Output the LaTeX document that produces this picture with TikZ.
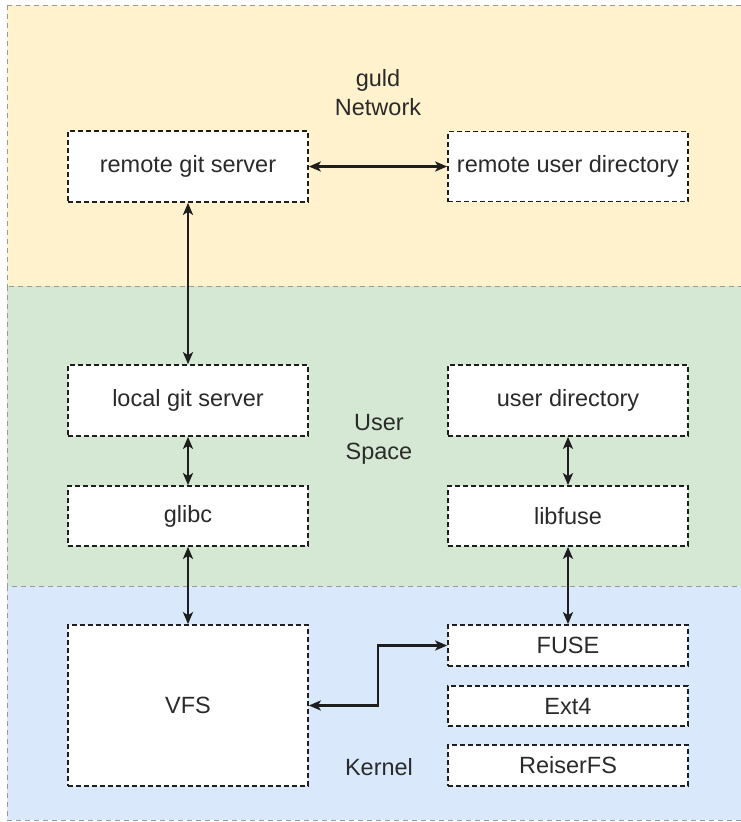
\documentclass[tikz,border=0pt]{standalone}
\usepackage{fontspec}
\setmainfont{Liberation Sans}
\usetikzlibrary{arrows.meta}
\definecolor{netfill}{HTML}{FFF2CC}
\definecolor{userfill}{HTML}{D5E8D4}
\definecolor{kernfill}{HTML}{DAE8FC}
\definecolor{regionline}{HTML}{9A9A9A}
\definecolor{inkc}{HTML}{1E1E1E}
\definecolor{textc}{HTML}{2A2A2A}
\tikzset{
  region/.style={fill=#1, draw=regionline, line width=1pt, dash pattern=on 5pt off 4pt},
  blockbox/.style={draw=inkc, fill=white, line width=1.7pt, dash pattern=on 5pt off 3pt,
    minimum width=240pt, inner sep=0pt, text=textc, font=\fontsize{23.5}{27}\selectfont},
  lbl/.style={text=textc, align=center, font=\fontsize{23.5}{29}\selectfont},
  tipa/.tip={Stealth[length=12pt,width=10pt,inset=3pt]},
  link/.style={draw=inkc, line width=2.3pt, tipa-tipa}
}
\begin{document}
\begin{tikzpicture}[x=1pt,y=-1pt]
\useasboundingbox (0,0) rectangle (740,822);
\fill[white] (0,0) rectangle (740,822);
% regions
\path[region=netfill] (7,5) rectangle (750,286);
\path[region=userfill] (7,286) rectangle (750,586);
\path[region=kernfill] (7,586) rectangle (750,820);
% region labels
\node[lbl] (netlbl) at (378,93) {guld\\Network};
\node[lbl] (userlbl) at (379,439) {User\\Space};
\node[lbl] (kernlbl) at (379,767) {Kernel};
% boxes
\node[blockbox, minimum height=71pt] (rgs) at (188,166.5) {remote git server};
\node[blockbox, minimum height=70pt] (rud) at (568,166.5) {remote user directory};
\node[blockbox, minimum height=71pt] (lgs) at (188,400.5) {local git server};
\node[blockbox, minimum height=71pt] (ud) at (568,400.5) {user directory};
\node[blockbox, minimum height=60pt] (glibc) at (188,516) {glibc};
\node[blockbox, minimum height=60pt] (libfuse) at (568,516) {libfuse};
\node[blockbox, minimum height=161pt] (vfs) at (188,705.5) {VFS};
\node[blockbox, minimum height=41pt] (fuse) at (568,645.5) {FUSE};
\node[blockbox, minimum height=40pt] (ext) at (568,706) {Ext4};
\node[blockbox, minimum height=41pt] (reiser) at (568,765.5) {ReiserFS};
% connectors
\draw[link] (rgs) -- (rud);
\draw[link] (rgs) -- (lgs);
\draw[link] (lgs) -- (glibc);
\draw[link] (glibc) -- (vfs);
\draw[link] (ud) -- (libfuse);
\draw[link] (libfuse) -- (fuse);
\coordinate (elbow) at (378,675);
\draw[link] (vfs.east) -| (elbow) |- (fuse.west);
\end{tikzpicture}
\end{document}
